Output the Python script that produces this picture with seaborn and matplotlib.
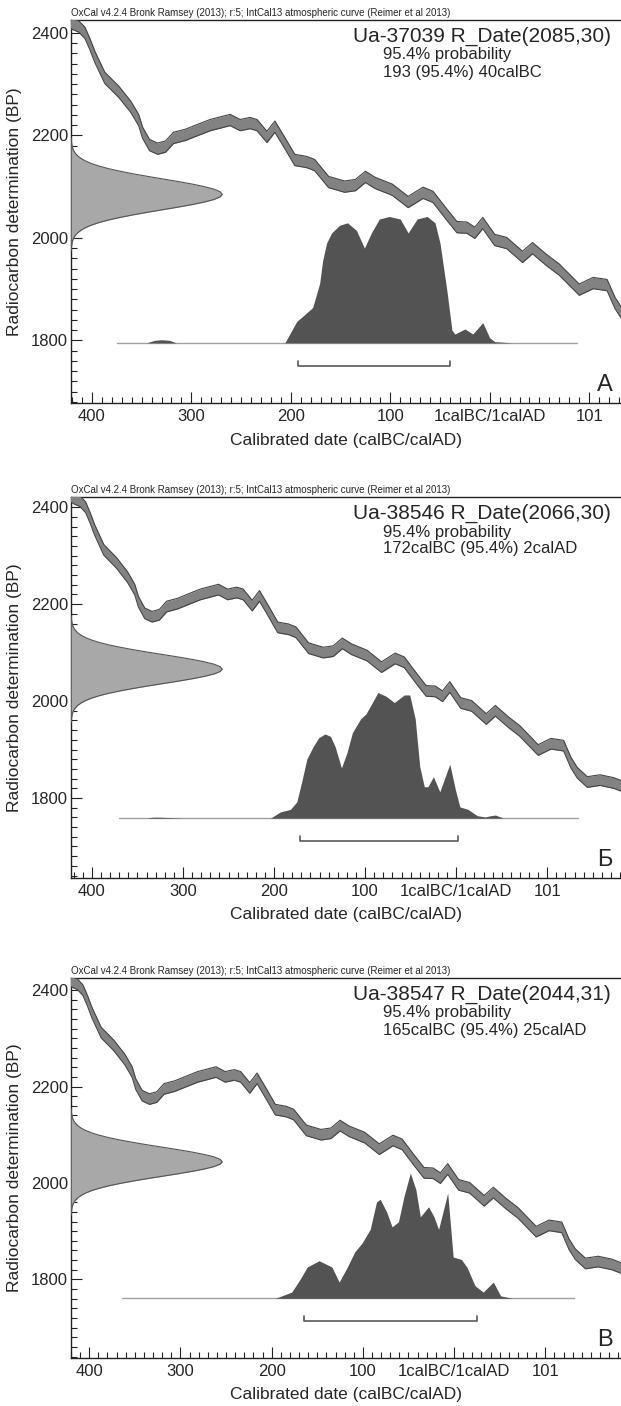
import numpy as np
import seaborn as sns
import matplotlib.pyplot as plt
from matplotlib.ticker import FixedLocator, MultipleLocator

# IntCal13 band as drawn: calendar year (BC negative) and 14C age (BP)
curve_year = [-425, -420, -413, -407, -402, -397, -387, -373, -361, -353,
              -349, -342, -334, -326, -318, -306, -293, -281, -269, -261,
              -251, -241, -234, -224, -216, -206, -196, -184, -176, -162,
              -146, -135, -125, -115, -98, -82, -67, -57, -43, -33,
              -23, -15, -7, 5, 17, 33, 43, 57, 70, 90,
              104, 118, 126, 133, 144, 158, 173, 188]
curve_bp = [2424, 2418, 2412, 2400, 2378, 2353, 2312, 2285, 2256, 2230,
            2205, 2181, 2174, 2178, 2195, 2201, 2211, 2220, 2226, 2230,
            2220, 2224, 2220, 2197, 2217, 2185, 2152, 2148, 2142, 2109,
            2100, 2103, 2119, 2107, 2094, 2070, 2088, 2080, 2045, 2021,
            2020, 2010, 2029, 1996, 1990, 1963, 1980, 1957, 1938, 1899,
            1912, 1908, 1873, 1852, 1833, 1837, 1831, 1820]
curve_sigma = 11

# shape of the radiocarbon measurement (offset from the date, relative density)
date_offset = [-110, -105, -100, -95, -90, -85, -80, -75, -70, -65, -60, -55,
               -50, -45, -40, -35, -30, -25, -20, -15, -10, -5, 0, 5, 10, 15,
               20, 25, 30, 35, 40, 45, 50, 55, 60, 65, 70, 75, 80, 85, 90, 95,
               100, 105, 110]
date_density = [0.001, 0.002, 0.004, 0.007, 0.011, 0.018, 0.029, 0.044, 0.066,
                0.096, 0.135, 0.186, 0.249, 0.325, 0.411, 0.506, 0.607, 0.707,
                0.801, 0.882, 0.946, 0.986, 1.0, 0.986, 0.946, 0.882, 0.801,
                0.707, 0.607, 0.506, 0.411, 0.325, 0.249, 0.186, 0.135, 0.096,
                0.066, 0.044, 0.029, 0.018, 0.011, 0.007, 0.004, 0.002, 0.001]

# calibrated distributions (year, relative probability)
pdf_a_year = [-375, -345, -337, -330, -322, -315, -206, -194, -188, -178,
              -171, -168, -164, -159, -151, -143, -134, -126, -119, -111,
              -101, -90, -82, -73, -63, -55, -50, -43, -38, -35,
              -25, -17, -7, 0, 5, 23, 88]
pdf_a_prob = [0, 0, 0.02, 0.025, 0.02, 0, 0, 0.17, 0.21, 0.28,
              0.47, 0.65, 0.79, 0.87, 0.93, 0.95, 0.89, 0.75, 0.87, 0.98,
              1.0, 0.98, 0.87, 0.98, 1.0, 0.95, 0.79, 0.41, 0.10, 0.07,
              0.11, 0.07, 0.16, 0.04, 0.01, 0, 0]

pdf_b_year = [-370, -340, -333, -326, -300, -204, -193, -182, -175, -169,
              -164, -157, -151, -144, -138, -133, -126, -120, -114, -105,
              -99, -92, -86, -77, -68, -57, -51, -45, -40, -35,
              -31, -25, -18, -7, -1, 4, 13, 23, 32, 38,
              43, 52, 134]
pdf_b_prob = [0, 0, 0.008, 0.008, 0, 0, 0.05, 0.07, 0.13, 0.31,
              0.47, 0.57, 0.64, 0.67, 0.65, 0.57, 0.40, 0.52, 0.68, 0.79,
              0.83, 0.92, 1.0, 0.97, 0.92, 0.98, 0.98, 0.79, 0.41, 0.25,
              0.25, 0.33, 0.21, 0.43, 0.23, 0.09, 0.07, 0.02, 0.01, 0.02,
              0.025, 0, 0]

pdf_c_year = [-364, -196, -178, -169, -161, -148, -134, -126, -117, -109,
              -101, -92, -85, -81, -74, -68, -61, -55, -48, -42,
              -37, -28, -22, -17, -7, -1, 8, 14, 23, 32,
              43, 51, 64, 131]
pdf_c_prob = [0, 0, 0.05, 0.15, 0.25, 0.30, 0.25, 0.13, 0.25, 0.37,
              0.44, 0.55, 0.77, 0.79, 0.69, 0.57, 0.61, 0.81, 1.0, 0.87,
              0.65, 0.73, 0.65, 0.55, 0.84, 0.33, 0.31, 0.25, 0.10, 0.05,
              0.13, 0.02, 0, 0]

sample_names = ['Ua-37039', 'Ua-38546', 'Ua-38547']
r_date = [2085, 2066, 2044]
r_error = [30, 30, 31]
range_text = ['193 (95.4%) 40calBC', '172calBC (95.4%) 2calAD', '165calBC (95.4%) 25calAD']
range_from = [-193, -172, -165]
range_to = [-40, 2, 25]
panel_letter = ['А', 'Б', 'В']

x_limits = [(-421, 132), (-423, 181), (-420, 183)]
y_limits = [(1678, 2425), (1635, 2421), (1637, 2425)]

tick_year = [-400, -300, -200, -100, 0, 100]
tick_label = ['400', '300', '200', '100', '1calBC/1calAD', '101']

title_text = 'OxCal v4.2.4 Bronk Ramsey (2013); r:5; IntCal13 atmospheric curve (Reimer et al 2013)'

sns.set_style('ticks')
plt.rcParams['font.family'] = ['Liberation Sans', 'DejaVu Sans']

W, H = 621, 1406
fig = plt.figure(figsize=(W / 100, H / 100), dpi=100)
panel_px = [(20, 403), (497, 878), (978, 1358)]   # top / bottom of each plot box
left_px = 71

pdf_years = [pdf_a_year, pdf_b_year, pdf_c_year]
pdf_probs = [pdf_a_prob, pdf_b_prob, pdf_c_prob]

cy = np.array(curve_year)
cb = np.array(curve_bp)

for i in range(3):
    top, bot = panel_px[i]
    ax = fig.add_axes([left_px / W, 1 - bot / H, (W - left_px) / W, (bot - top) / H])
    x0, x1 = x_limits[i]
    y0, y1 = y_limits[i]
    xr, yr = x1 - x0, y1 - y0
    hpx = bot - top

    # calibration curve band
    ax.fill_between(cy, cb - curve_sigma, cb + curve_sigma, color='#828282', lw=0, zorder=5)
    sns.lineplot(x=cy, y=cb + curve_sigma, ax=ax, color='#454545', lw=0.8,
                 estimator=None, sort=False, zorder=6)
    sns.lineplot(x=cy, y=cb - curve_sigma, ax=ax, color='#454545', lw=0.8,
                 estimator=None, sort=False, zorder=6)

    # radiocarbon date on the y axis
    bp = r_date[i] + np.array(date_offset)
    wid = x0 + np.array(date_density) * 0.275 * xr
    ax.fill_betweenx(bp, x0, wid, color='#a8a8a8', lw=0, zorder=3)
    ax.plot(wid, bp, color='#555555', lw=0.8, zorder=4)

    # calibrated distribution
    base = y0 + 0.157 * yr
    py = np.array(pdf_years[i])
    pp = np.array(pdf_probs[i])
    ax.plot([py[0], py[-1]], [base, base], color='#a0a0a0', lw=1.0, zorder=3)
    ax.fill_between(py, base, base + pp * 0.33 * yr, color='#535353', lw=0, zorder=4)

    # 95.4% range bracket
    by = base - 0.06 * yr
    tk = 0.013 * yr
    ax.plot([range_from[i], range_from[i], range_to[i], range_to[i]],
            [by + tk, by, by, by + tk], color='#5a5a5a', lw=1.2, zorder=4)

    ax.set_xlim(x0, x1)
    ax.set_ylim(y0, y1)
    ax.xaxis.set_major_locator(FixedLocator(tick_year))
    ax.set_xticklabels(tick_label)
    ax.xaxis.set_minor_locator(MultipleLocator(10))
    ax.yaxis.set_major_locator(MultipleLocator(200))
    ax.yaxis.set_minor_locator(MultipleLocator(20))
    ax.tick_params(which='both', direction='in', top=False, right=False,
                   labelsize=12, width=0.8, color='#222222')
    ax.tick_params(which='major', length=8)
    ax.tick_params(which='minor', length=4)
    ax.tick_params(axis='x', pad=4)
    ax.tick_params(axis='y', pad=2)
    ax.spines['right'].set_visible(False)
    for s in ['left', 'bottom', 'top']:
        ax.spines[s].set_linewidth(1.0)
        ax.spines[s].set_color('#222222')

    ax.set_ylabel('Radiocarbon determination (BP)', fontsize=12.5)
    ax.yaxis.label.set_va('center')
    ax.yaxis.set_label_coords(-(left_px - 15) / (W - left_px), 0.5)
    ax.set_xlabel('Calibrated date (calBC/calAD)', fontsize=12.5)
    ax.xaxis.label.set_va('center')
    ax.xaxis.set_label_coords(0.5, -37 / hpx)

    ax.text(0.0, 1.004, title_text, transform=ax.transAxes, fontsize=7,
            ha='left', va='bottom')
    ax.text(0.982, 1 - 16 / hpx, f'{sample_names[i]} R_Date({r_date[i]},{r_error[i]})',
            transform=ax.transAxes, fontsize=15, ha='right', va='center')
    ax.text(0.567, 1 - 35 / hpx, '95.4% probability', transform=ax.transAxes,
            fontsize=12, ha='left', va='center')
    ax.text(0.567, 1 - 52 / hpx, range_text[i], transform=ax.transAxes,
            fontsize=12, ha='left', va='center')
    ax.text(0.97, 0.047, panel_letter[i], transform=ax.transAxes, fontsize=17,
            ha='center', va='center')

fig.savefig('out.png', dpi=100)
